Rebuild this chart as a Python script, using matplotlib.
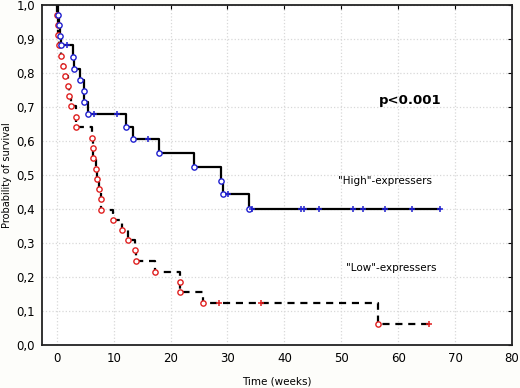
import numpy as np
import matplotlib
matplotlib.use("Agg")
import matplotlib.pyplot as plt

# "High"-expressers: event times / survival after event, censored obs
high_t = [0.2, 0.3, 0.6, 0.7, 2.8, 3.0, 4.1, 4.7, 4.8, 5.4, 12.2, 13.4, 17.9, 24.1, 28.9, 29.2, 33.8]
high_s = [0.970, 0.940, 0.910, 0.882, 0.846, 0.813, 0.780, 0.748, 0.716, 0.680,
          0.642, 0.605, 0.565, 0.525, 0.483, 0.444, 0.400]
high_cens_t = [1.8, 6.6, 10.5, 16.0, 30.1, 34.3, 43.0, 43.5, 46.1, 52.0, 53.8, 57.7, 62.5, 67.3]
high_cens_s = [0.882, 0.680, 0.680, 0.605, 0.444, 0.400, 0.400, 0.400, 0.400, 0.400,
               0.400, 0.400, 0.400, 0.400]

# "Low"-expressers
low_t = [0.1, 0.2, 0.2, 0.35, 0.8, 1.1, 1.5, 1.9, 2.1, 2.5, 3.4, 3.4,
         6.2, 6.3, 6.3, 6.9, 7.1, 7.4, 7.8, 7.8, 9.9, 11.5, 12.5, 13.7, 14.0,
         17.2, 21.6, 21.7, 25.7, 56.4]
low_s = [0.970, 0.940, 0.911, 0.881, 0.851, 0.822, 0.792, 0.762, 0.732, 0.702, 0.672, 0.640,
         0.609, 0.579, 0.549, 0.519, 0.489, 0.459, 0.429, 0.398, 0.368, 0.338, 0.308, 0.278, 0.248,
         0.216, 0.185, 0.155, 0.125, 0.062]
low_cens_t = [28.5, 35.9, 65.5]
low_cens_s = [0.125, 0.125, 0.062]


def step_xy(t, s, ct, cs):
    order = np.argsort(t, kind="stable")
    x = [0.0] + [t[i] for i in order]
    y = [1.0] + [s[i] for i in order]
    if ct and max(ct) > x[-1]:
        x.append(max(ct))
        y.append(y[-1])
    return x, y


fig = plt.figure(figsize=(5.2, 3.88), dpi=100, facecolor="#fdfdfa")
ax = fig.add_axes([42 / 520, 1 - 345 / 388, 470 / 520, 340 / 388])
ax.set_facecolor("white")

hx, hy = step_xy(high_t, high_s, high_cens_t, high_cens_s)
lx, ly = step_xy(low_t, low_s, low_cens_t, low_cens_s)
ax.step(hx, hy, where="post", color="black", lw=1.6, zorder=2)
ax.step(lx, ly, where="post", color="black", lw=1.6, ls=(0, (3.2, 2.6)), zorder=2)

ax.plot(low_t, low_s, "o", ms=3.8, mfc="white", mec="#e02020", mew=1.0, ls="none", zorder=3)
ax.plot(low_cens_t, low_cens_s, "+", ms=5, mec="#e02020", mew=1.1, ls="none", zorder=3)
ax.plot(high_t, high_s, "o", ms=3.8, mfc="white", mec="#2020d0", mew=1.0, ls="none", zorder=4)
ax.plot(high_cens_t, high_cens_s, "+", ms=5, mec="#2020d0", mew=1.1, ls="none", zorder=4)

ax.set_xlim(-2.6, 80)
ax.set_ylim(0, 1.0)
ax.set_xticks(np.arange(0, 81, 10))
ax.set_yticks(np.arange(0, 1.01, 0.1))
ax.set_yticklabels([f"{v:.1f}".replace(".", ",") for v in np.arange(0, 1.01, 0.1)])
ax.grid(True, color="#d8d8d8", ls=":", lw=0.9)
ax.set_axisbelow(True)
ax.tick_params(labelsize=8.5, length=0, pad=5)
ax.tick_params(top=True, right=True, direction="in", length=3, which="major")
ax.tick_params(left=False, bottom=False)
for sp in ax.spines.values():
    sp.set_linewidth(1.3)
    sp.set_color("#222222")

ax.set_xlabel("Time (weeks)", fontsize=7.5, labelpad=8)
ax.set_ylabel("Probability of survival", fontsize=7)
ax.yaxis.set_label_coords(-0.063, 0.5)

ax.text(67.6, 0.72, "p<0.001", fontsize=9.5, fontweight="bold", ha="right", va="center")
ax.text(49.4, 0.482, '"High"-expressers', fontsize=7.5, ha="left", va="center")
ax.text(50.8, 0.226, '"Low"-expressers', fontsize=7.5, ha="left", va="center")

fig.savefig("out.png", dpi=100, facecolor=fig.get_facecolor())
